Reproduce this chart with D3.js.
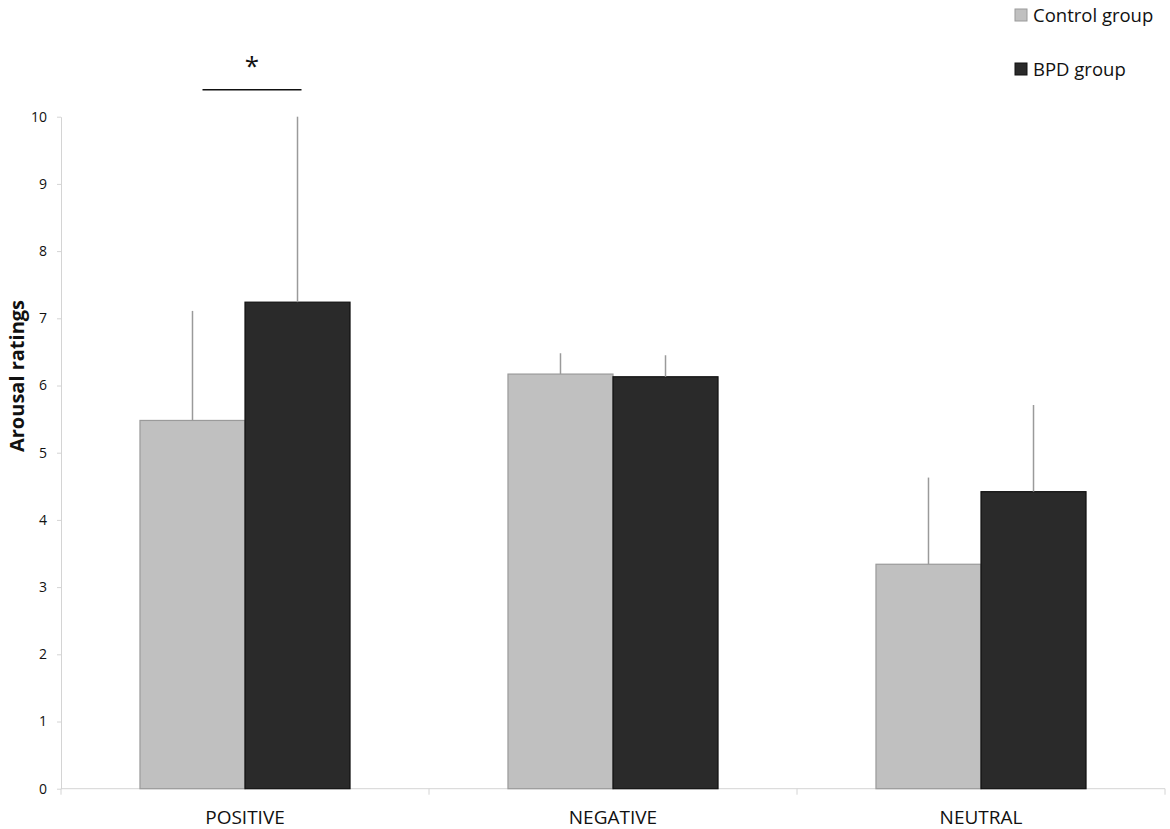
<!DOCTYPE html>
<html>
<head>
<meta charset="utf-8">
<script src="https://cdn.jsdelivr.net/npm/d3@7"></script>
<style>
  body { margin: 0; background: #fff; }
  svg text { font-family: "Open Sans", "Noto Sans", sans-serif; fill: #111; }
</style>
</head>
<body>
<svg id="chart" width="1170" height="829"></svg>
<script>
// values
const categories = ['POSITIVE', 'NEGATIVE', 'NEUTRAL'];
const groups = ['Control group', 'BPD group'];
const controlMeans = [5.48, 6.17, 3.34];
const controlSD = [1.63, 0.31, 1.29];
const bpdMeans = [7.24, 6.13, 4.42];
const bpdSD = [2.76, 0.32, 1.29];
const yTicks = [0, 1, 2, 3, 4, 5, 6, 7, 8, 9, 10];

const colors = { 'Control group': '#c0c0c0', 'BPD group': '#2a2a2a' };
const strokes = { 'Control group': '#9a9a9a', 'BPD group': '#111' };

const svg = d3.select('#chart');
const plotLeft = 61, plotRight = 1165, plotTop = 116.7, plotBottom = 788.7;

// build rows for drawing
let rows = [];
categories.forEach((cat, i) => {
    rows.push({ cat: cat, group: groups[0], mean: controlMeans[i], sd: controlSD[i] });
    rows.push({ cat: cat, group: groups[1], mean: bpdMeans[i], sd: bpdSD[i] });
});

const x0 = d3.scaleBand().domain(categories).range([plotLeft, plotRight]).padding(0);
const x1 = d3.scaleBand().domain(groups).range([0, x0.bandwidth()])
                .paddingInner(0).paddingOuter(0.752);
const y = d3.scaleLinear().domain([0, 10]).range([plotBottom, plotTop]);

// y axis
const yAxis = svg.append('g')
    .attr('transform', 'translate(' + plotLeft + ',0)')
    .call(d3.axisLeft(y).tickValues(yTicks).tickSize(4).tickPadding(10).tickSizeOuter(0));
yAxis.select('.domain').attr('stroke', '#d4d4d4');
yAxis.selectAll('.tick line').attr('stroke', '#d4d4d4');
yAxis.selectAll('.tick text').style('font-size', '14px').attr('fill', '#111');

// x axis line + boundary ticks
svg.append('line')
    .attr('x1', plotLeft).attr('x2', plotRight)
    .attr('y1', plotBottom).attr('y2', plotBottom)
    .attr('stroke', '#d4d4d4');
let bounds = categories.map(c => x0(c)).concat([x0.range()[1]]);
svg.selectAll('.xtick').data(bounds).enter().append('line')
    .attr('class', 'xtick')
    .attr('x1', d => d).attr('x2', d => d)
    .attr('y1', plotBottom).attr('y2', plotBottom + 6)
    .attr('stroke', '#d4d4d4');
svg.selectAll('.xlabel').data(categories).enter().append('text')
    .attr('class', 'xlabel')
    .attr('x', d => x0(d) + x0.bandwidth() / 2)
    .attr('y', 824)
    .attr('text-anchor', 'middle')
    .style('font-size', '19px')
    .text(d => d);

// bars
svg.selectAll('.bar').data(rows).enter().append('rect')
    .attr('class', 'bar')
    .attr('x', d => x0(d.cat) + x1(d.group))
    .attr('y', d => y(d.mean))
    .attr('width', x1.bandwidth())
    .attr('height', d => y(0) - y(d.mean))
    .attr('fill', d => colors[d.group])
    .attr('stroke', d => strokes[d.group])
    .attr('stroke-width', 1.2);

// upper error bars (no caps)
svg.selectAll('.err').data(rows).enter().append('line')
    .attr('class', 'err')
    .attr('x1', d => x0(d.cat) + x1(d.group) + x1.bandwidth() / 2)
    .attr('x2', d => x0(d.cat) + x1(d.group) + x1.bandwidth() / 2)
    .attr('y1', d => y(d.mean))
    .attr('y2', d => y(d.mean + d.sd))
    .attr('stroke', '#9a9a9a')
    .attr('stroke-width', 1.5);

// significance marker over POSITIVE
const cPos = x0('POSITIVE') + x1(groups[0]) + x1.bandwidth() / 2;
const bPos = x0('POSITIVE') + x1(groups[1]) + x1.bandwidth() / 2;
svg.append('line')
    .attr('x1', cPos + 10).attr('x2', bPos + 4)
    .attr('y1', y(10.4)).attr('y2', y(10.4))
    .attr('stroke', '#111').attr('stroke-width', 1.5);
svg.append('text')
    .attr('x', (cPos + 10 + bPos + 4) / 2)
    .attr('y', y(10.4) - 15)
    .attr('text-anchor', 'middle')
    .style('font-size', '26px')
    .text('*');

// y title
svg.append('text')
    .attr('transform', 'translate(24,376) rotate(-90)')
    .attr('text-anchor', 'middle')
    .style('font-size', '20px')
    .style('font-weight', 'bold')
    .text('Arousal ratings');

// legend
let legend = svg.selectAll('.legend').data(groups).enter().append('g')
    .attr('class', 'legend')
    .attr('transform', (d, i) => 'translate(1015,' + (9 + i * 54) + ')');
legend.append('rect')
    .attr('width', 12).attr('height', 12)
    .attr('fill', d => colors[d])
    .attr('stroke', d => strokes[d]);
legend.append('text')
    .attr('x', 18).attr('y', 13)
    .style('font-size', '18.5px')
    .text(d => d);
</script>
</body>
</html>
